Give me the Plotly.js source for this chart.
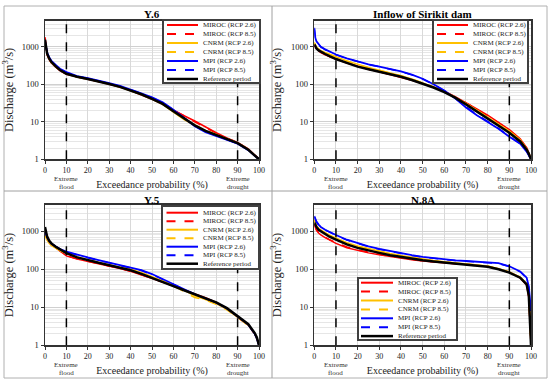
<!DOCTYPE html>
<html>
<head>
<meta charset="utf-8">
<script src="https://cdn.plot.ly/plotly-3.0.1.min.js"></script>
<style>html,body{margin:0;padding:0;background:#fff;}#chart{width:550px;height:385px;}</style>
</head>
<body>
<div id="chart"></div>
<script>
// Exceedance probability (%)
const P = [0,0.5,1,2,3,5,7,10,15,20,25,30,35,40,45,50,55,60,65,70,75,80,85,90,95,98,99,100];

const SERIES_NAMES = ['MIROC (RCP 2.6)','MIROC (RCP 8.5)','CNRM (RCP 2.6)','CNRM (RCP 8.5)','MPI (RCP 2.6)','MPI (RCP 8.5)','Reference period'];
const PANEL_TITLES = ['Y.6','Inflow of Sirikit dam','Y.5','N.8A'];

// Y.6
const Y6_MIROC26 = [1800,850,600,450,370,285,230,185,155,136,119,101,84,68,53,40,29,20,14.5,10.5,7.2,5.1,3.7,2.8,1.9,1.35,1.15,1.0];
const Y6_MIROC85 = [1700,870,620,460,375,290,235,188,156,137,120,102,85,69,54,41,30,20.5,14,10,6.9,5.0,3.6,2.75,1.85,1.3,1.12,1.0];
const Y6_CNRM26 = [1500,880,640,470,385,295,238,190,157,137,119,101,84,68,53,40,29,18,11.5,8.0,5.8,4.5,3.5,2.75,1.85,1.3,1.15,1.0];
const Y6_CNRM85 = [1450,860,630,465,380,293,236,189,157,137,120,102,85,69,54,41,30,18.5,12,8.3,6.0,4.6,3.5,2.7,1.8,1.3,1.12,1.0];
const Y6_MPI26 = [1400,950,700,520,420,330,260,210,165,145,126,108,90,73,57,45,33,21,12.5,7.6,5.3,4.2,3.3,2.6,1.75,1.25,1.1,1.0];
const Y6_MPI85 = [1450,930,690,510,410,320,255,205,163,143,124,106,89,72,56,44,32,21,12.8,7.8,5.4,4.3,3.35,2.65,1.8,1.28,1.12,1.0];
const Y6_REF = [1550,900,650,480,390,300,240,190,158,138,120,102,85,69,54,41,30,19,12.5,8.0,5.7,4.4,3.4,2.7,1.8,1.25,1.12,1.0];

// Inflow of Sirikit dam
const SK_MIROC26 = [1100,980,880,780,700,610,540,470,370,300,252,215,183,155,128,105,84,65,47,33,22,15,9.5,6.2,3.5,2.0,1.5,1.0];
const SK_MIROC85 = [1120,990,890,790,710,620,545,475,372,300,252,216,184,156,129,106,84,64,46,32,21.5,14.5,9.3,6.0,3.4,2.0,1.5,1.0];
const SK_CNRM26 = [1300,1100,980,870,790,700,620,540,420,335,280,237,202,170,138,110,85,64,45,31,20.5,13.5,8.7,5.6,3.3,1.9,1.45,1.0];
const SK_CNRM85 = [1280,1090,970,860,780,690,610,530,415,330,277,235,200,168,137,109,84,63,45,30.5,20,13.2,8.5,5.5,3.2,1.9,1.45,1.0];
const SK_MPI26 = [3200,1700,1400,1150,1000,850,740,620,490,400,340,295,255,220,180,140,100,68,42,24,15,10,6.5,4.0,2.6,1.6,1.3,1.0];
const SK_MPI85 = [3000,1650,1380,1130,990,840,730,610,485,395,337,292,253,218,178,138,99,67,42,25,15.5,10.3,6.7,4.1,2.65,1.65,1.3,1.0];
const SK_REF = [1150,1000,900,800,730,640,560,470,370,295,250,215,185,158,130,105,82,62,44,29,19,12.5,8.0,5.1,3.0,1.8,1.4,1.0];

// Y.5
const Y5_MIROC26 = [900,750,620,500,440,370,300,225,185,162,142,122,105,88,72,58,46,36,28,22.5,18,13.5,9.2,5.6,3.4,2.0,1.5,1.0];
const Y5_MIROC85 = [950,760,630,510,445,372,305,230,188,163,143,123,106,89,73,58,46,36,28,22,17.5,13.2,9.0,5.5,3.3,2.0,1.5,1.0];
const Y5_CNRM26 = [800,680,580,480,420,360,310,262,210,177,150,130,113,100,82,64,50,38,28,20,16,12.5,8.8,5.6,3.4,2.0,1.5,1.0];
const Y5_CNRM85 = [820,690,590,485,425,362,312,260,208,175,149,129,112,98,80,63,49,37,26,18,15.5,12,8.6,5.5,3.3,2.0,1.5,1.0];
const Y5_MPI26 = [1100,850,680,540,470,400,340,290,240,205,175,150,130,115,95,75,55,40,29,22,17,13.2,9.3,5.8,3.5,2.0,1.5,1.0];
const Y5_MPI85 = [1150,860,690,545,475,398,338,285,236,200,172,148,128,112,93,73,54,40,29,22,17.2,13.4,9.4,5.9,3.5,2.05,1.55,1.0];
const Y5_REF = [1300,900,720,560,480,390,330,265,205,172,148,128,110,94,76,60,47,36,28,22,17.5,13.5,9.5,6.0,3.6,2.1,1.6,1.0];

// N.8A
const N8A_MIROC26 = [1500,1200,1050,900,800,680,580,480,370,310,270,240,215,195,178,165,155,147,140,135,127,118,102,84,60,38,18,1];
const N8A_MIROC85 = [1550,1250,1100,930,830,700,600,500,385,320,278,247,220,199,181,167,157,148,141,135,127,118,101,83,60,39,19,1];
const N8A_CNRM26 = [2000,1600,1400,1200,1080,920,790,660,500,410,350,300,260,230,205,185,170,158,148,140,132,122,104,85,62,42,22,1];
const N8A_CNRM85 = [1950,1580,1380,1180,1060,900,775,650,490,400,342,295,257,227,203,183,168,156,147,139,131,121,103,84,61,41,21,1];
const N8A_MPI26 = [2500,2000,1800,1500,1300,1100,950,800,600,480,400,345,300,265,235,212,195,182,172,165,160,155,145,120,88,60,35,8];
const N8A_MPI85 = [2400,1950,1750,1470,1280,1080,930,780,590,470,392,338,295,260,230,208,192,180,170,163,158,152,142,118,86,58,33,6];
const N8A_REF = [1700,1450,1300,1100,1000,850,720,600,450,365,310,270,235,210,190,172,160,150,142,135,127,117,100,82,60,40,20,1];

const Y_TICKS = [1,10,100,1000];
const Y_TICK_TEXT = ['1','10','100','1000'];
const X_TICKS = [0,10,20,30,40,50,60,70,80,90,100];
const MARKERS_X = [10, 90];
const MARKER_LINE1 = ['Extreme','Extreme'];
const MARKER_LINE2 = ['flood','drought'];

const PANEL_DATA = [
  [Y6_MIROC26,Y6_MIROC85,Y6_CNRM26,Y6_CNRM85,Y6_MPI26,Y6_MPI85,Y6_REF],
  [SK_MIROC26,SK_MIROC85,SK_CNRM26,SK_CNRM85,SK_MPI26,SK_MPI85,SK_REF],
  [Y5_MIROC26,Y5_MIROC85,Y5_CNRM26,Y5_CNRM85,Y5_MPI26,Y5_MPI85,Y5_REF],
  [N8A_MIROC26,N8A_MIROC85,N8A_CNRM26,N8A_CNRM85,N8A_MPI26,N8A_MPI85,N8A_REF]
];

// styles
const COLORS = ['#ff0000','#ff0000','#ffc000','#ffc000','#0000ff','#0000ff','#000000'];
const DASHES = ['solid','dash','solid','dash','solid','dash','solid'];
const WIDTHS = [1.5,1.5,1.5,1.5,1.8,1.5,2.5];

const W = 550, H = 385;
const fx = px => px / W;
const fy = py => 1 - py / H;
const FONT = '"Liberation Serif", "Times New Roman", serif';

// plot-area pixel boxes [left, right, top, bottom]
const BOXES = [[45,259,20.5,159.3],[314.3,531,20.5,159.3],[45,259,204.7,345.3],[314.3,531,204.7,345.3]];
const TITLE_Y = [14.5,14.5,200.3,200.3];
// legend boxes [x0, x1, y0, y1, lineX0, lineX1, textX, row0, rowStep]
const LEG = [
  [163,260,20,83,167,198,202,25,9],
  [433,528,20,83,437,468,472,25,9],
  [162,259,206,269,166.5,198,202,212.7,8.5],
  [358,457,278,340,361,393,397,282.7,8.9]
];

const traces = [];
const layout = {
  width: W, height: H,
  margin: {l:0,r:0,t:0,b:0},
  paper_bgcolor: '#fff', plot_bgcolor: '#fff',
  showlegend: false,
  font: {family: FONT, color: '#222'},
  shapes: [], annotations: []
};

const minorVals = [];
[1,10,100,1000].forEach(d => { for (let k=2;k<=9;k++){ if (k*d<=5000) minorVals.push(k*d);} });

PANEL_DATA.forEach((series, p) => {
  const n = p + 1;
  const xa = 'x' + (n===1?'':n), ya = 'y' + (n===1?'':n);
  const b = BOXES[p];
  const ph = b[3] - b[2];
  series.forEach((vals, s) => {
    traces.push({
      type: 'scatter', mode: 'lines', x: P, y: vals, name: SERIES_NAMES[s],
      xaxis: xa, yaxis: ya,
      line: {color: COLORS[s], width: WIDTHS[s], dash: DASHES[s]},
      hoverinfo: 'skip'
    });
  });
  layout['xaxis' + (n===1?'':n)] = {
    domain: [fx(b[0]), fx(b[1])], anchor: ya, range: [0,100],
    tickvals: X_TICKS, ticks: 'outside', ticklen: 3, tickcolor: '#333',
    tickfont: {size: 8, family: FONT, color: '#222'},
    showgrid: true, gridcolor: '#d9d9d9', gridwidth: 1, zeroline: false,
    showline: true, mirror: true, linecolor: '#333', linewidth: 1.5,
    title: {text: 'Exceedance probability (%)', font: {size: 10, family: FONT, color: '#222'}, standoff: 6}
  };
  layout['yaxis' + (n===1?'':n)] = {
    domain: [fy(b[3]), fy(b[2])], anchor: xa, type: 'log', range: [0, Math.log10(5000)],
    tickvals: Y_TICKS, ticktext: Y_TICK_TEXT, ticks: 'outside', ticklen: 3, tickcolor: '#333',
    tickfont: {size: 8.5, family: FONT, color: '#222'},
    showgrid: true, gridcolor: '#d0d0d0', gridwidth: 1, zeroline: false,
    minor: {tickvals: minorVals, showgrid: true, gridcolor: '#e6e6e6', gridwidth: 1, ticklen: 0},
    showline: true, mirror: true, linecolor: '#333', linewidth: 1.5,
    title: {text: 'Discharge (m<sup>3</sup>/s)', font: {size: 12.5, family: FONT, color: '#222'}, standoff: 6}
  };
  // dashed vertical lines at extreme thresholds
  MARKERS_X.forEach((mx, i) => {
    layout.shapes.push({type:'line', xref: xa, yref: ya + ' domain', x0: mx, x1: mx, y0: 0, y1: 1,
      line: {color:'#000', width: 1.5, dash: 'dash'}, layer: 'above'});
    layout.annotations.push({xref: xa, yref: ya + ' domain', x: mx, y: -19.5 / ph, yanchor: 'middle',
      text: MARKER_LINE1[i], showarrow: false, borderpad: 0, font: {size: 7, family: FONT, color: '#333'}});
    layout.annotations.push({xref: xa, yref: ya + ' domain', x: mx, y: -27.3 / ph, yanchor: 'middle',
      text: MARKER_LINE2[i], showarrow: false, borderpad: 0, font: {size: 7, family: FONT, color: '#333'}});
  });
  // panel title
  layout.annotations.push({xref: xa + ' domain', yref: 'paper', x: 0.5, y: fy(TITLE_Y[p]), yanchor: 'middle',
    text: '<b>' + PANEL_TITLES[p] + '</b>', showarrow: false, font: {size: 11, family: FONT, color: '#000'}});
  // legend
  const L = LEG[p];
  layout.shapes.push({type:'rect', xref:'paper', yref:'paper', x0: fx(L[0]), x1: fx(L[1]), y0: fy(L[3]), y1: fy(L[2]),
    line: {color:'#404040', width: 2}, fillcolor: '#fff', layer: 'above'});
  SERIES_NAMES.forEach((nm, s) => {
    const ry = L[7] + L[8] * s;
    layout.shapes.push({type:'line', xref:'paper', yref:'paper', x0: fx(L[4]), x1: fx(L[5]), y0: fy(ry), y1: fy(ry),
      line: {color: COLORS[s], width: s===6 ? 2.5 : 2, dash: DASHES[s]}, layer: 'above'});
    layout.annotations.push({xref:'paper', yref:'paper', x: fx(L[6]), y: fy(ry), xanchor:'left', yanchor:'middle',
      text: nm, showarrow:false, borderpad: 0, font: {size: 7, family: FONT, color: '#222'}});
  });
});

// panel separators
layout.shapes.push({type:'rect', xref:'paper', yref:'paper', x0: fx(4), x1: fx(547), y0: fy(378), y1: fy(6),
  line: {color:'#b0b0b0', width: 1}, layer: 'below'});
layout.shapes.push({type:'line', xref:'paper', yref:'paper', x0: fx(272), x1: fx(272), y0: fy(378), y1: fy(6),
  line: {color:'#a0a0a0', width: 1}, layer: 'below'});
layout.shapes.push({type:'line', xref:'paper', yref:'paper', x0: fx(4), x1: fx(547), y0: fy(191), y1: fy(191),
  line: {color:'#a0a0a0', width: 1}, layer: 'below'});

Plotly.newPlot('chart', traces, layout, {staticPlot: true, displayModeBar: false});
</script>
</body>
</html>
